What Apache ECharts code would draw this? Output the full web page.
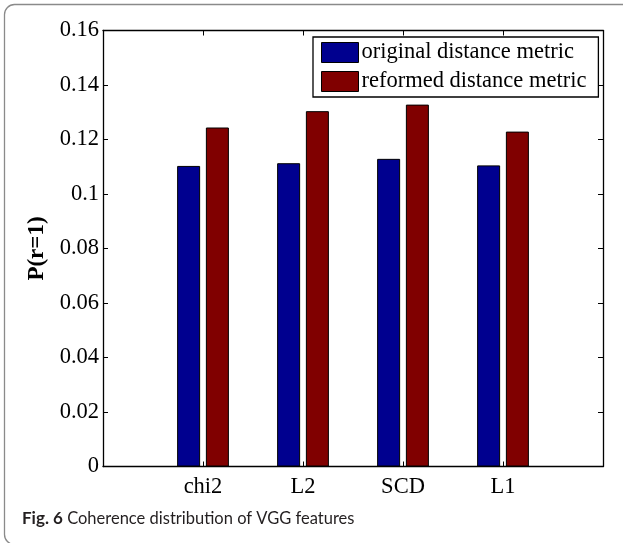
<!DOCTYPE html>
<html>
<head>
<meta charset="utf-8">
<script src="https://cdn.jsdelivr.net/npm/echarts@6/dist/echarts.min.js"></script>
<style>
  html, body { margin: 0; padding: 0; background: #fff; }
  #chart { width: 623px; height: 543px; }
</style>
</head>
<body>
<div id="chart"></div>
<script>
// ---- data ----
const categories = ['chi2', 'L2', 'SCD', 'L1'];
const seriesNames = ['original distance metric', 'reformed distance metric'];
const originalValues = [0.1103, 0.1113, 0.1129, 0.1105];
const reformedValues = [0.1244, 0.1304, 0.1328, 0.1229];
const yTicks = [0, 0.02, 0.04, 0.06, 0.08, 0.1, 0.12, 0.14, 0.16];
const yAxisTitle = 'P(r=1)';
const captionBold = 'Fig. 6';
const captionText = ' Coherence distribution of VGG features';

const serif = 'Liberation Serif';
const toPairs = vals => vals.map((v, i) => [i + 1, v]);
const fmtY = v => String(parseFloat(Number(v).toFixed(2)));

const chart = echarts.init(document.getElementById('chart'), null, { renderer: 'canvas' });

const axisLineStyle = { color: '#000', width: 1.3 };

chart.setOption({
  animation: false,
  backgroundColor: '#fff',
  grid: { left: 103, right: 20, top: 30.5, bottom: 76.5, containLabel: false },
  legend: {
    orient: 'vertical',
    left: 313,
    top: 37,
    padding: [4, 12, 4, 8],
    itemWidth: 37,
    itemHeight: 20,
    itemGap: 6,
    borderColor: '#000',
    borderWidth: 1.3,
    backgroundColor: '#fff',
    icon: 'rect',
    itemStyle: { borderColor: '#000', borderWidth: 1 },
    textStyle: { fontFamily: serif, fontSize: 22.5, color: '#000', padding: [0, 0, 0, -2] },
    data: seriesNames
  },
  xAxis: [
    {
      type: 'value', min: 0, max: 5, interval: 1,
      axisLine: { show: true, lineStyle: axisLineStyle },
      axisTick: { show: true, inside: true, length: 5, lineStyle: { color: '#000' } },
      splitLine: { show: false },
      axisLabel: {
        fontFamily: serif, fontSize: 22.5, color: '#000', margin: 9,
        formatter: v => categories[v - 1] || ''
      }
    },
    {
      type: 'value', min: 0, max: 5, interval: 1, position: 'top',
      axisLine: { show: true, onZero: false, lineStyle: axisLineStyle },
      axisTick: { show: true, inside: true, length: 5, lineStyle: { color: '#000' } },
      splitLine: { show: false },
      axisLabel: { show: false }
    }
  ],
  yAxis: [
    {
      type: 'value', min: yTicks[0], max: yTicks[yTicks.length - 1], interval: 0.02,
      axisLine: { show: true, onZero: false, lineStyle: axisLineStyle },
      axisTick: { show: true, inside: true, length: 5, lineStyle: { color: '#000' } },
      splitLine: { show: false },
      axisLabel: { fontFamily: serif, fontSize: 22.5, color: '#000', margin: 4, formatter: fmtY },
      name: yAxisTitle,
      nameLocation: 'middle',
      nameGap: 52,
      nameRotate: 90,
      nameTextStyle: { fontFamily: serif, fontSize: 23, fontWeight: 'bold', color: '#000' }
    },
    {
      type: 'value', min: yTicks[0], max: yTicks[yTicks.length - 1], interval: 0.02, position: 'right',
      axisLine: { show: true, onZero: false, lineStyle: axisLineStyle },
      axisTick: { show: true, inside: true, length: 5, lineStyle: { color: '#000' } },
      splitLine: { show: false },
      axisLabel: { show: false }
    }
  ],
  series: [
    {
      name: seriesNames[0], type: 'bar', xAxisIndex: 0, yAxisIndex: 0,
      barWidth: 23, barGap: '25%',
      itemStyle: { color: '#00008F', borderColor: '#000', borderWidth: 1 },
      data: toPairs(originalValues)
    },
    {
      name: seriesNames[1], type: 'bar', xAxisIndex: 0, yAxisIndex: 0,
      barWidth: 23, barGap: '25%',
      itemStyle: { color: '#800000', borderColor: '#000', borderWidth: 1 },
      data: toPairs(reformedValues)
    }
  ],
  graphic: [
    {
      type: 'rect', z: -1, silent: true,
      shape: { x: 4.5, y: 4.5, width: 700, height: 540, r: 10 },
      style: { fill: 'none', stroke: '#8a8a8a', lineWidth: 1.3 }
    },
    {
      type: 'text', left: 22, top: 510,
      style: {
        text: '{b|' + captionBold + '}{r|' + captionText + '}',
        rich: {
          b: { fontFamily: 'Lato', fontWeight: 'bold', fontSize: 17, fill: '#231f20' },
          r: { fontFamily: 'Lato', fontSize: 16.5, fill: '#231f20' }
        }
      }
    }
  ]
});
</script>
</body>
</html>
